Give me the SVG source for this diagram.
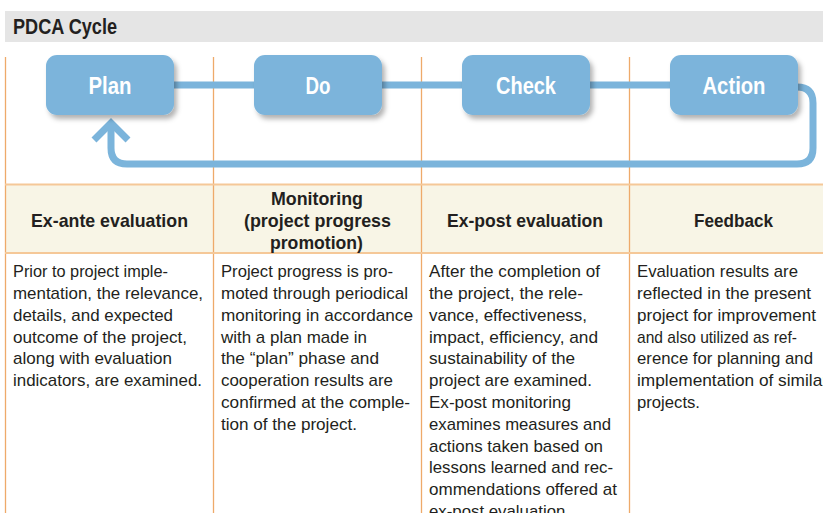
<svg xmlns="http://www.w3.org/2000/svg" width="823" height="513" viewBox="0 0 823 513">
<style>
.grid{stroke:#eeaa6a;stroke-width:1.3;fill:none}
.hline{stroke:#f5c898;stroke-width:2;fill:none}
.node{fill:#7bb4db}
.ntext{font-family:"Liberation Sans",Arial,sans-serif;font-weight:bold;font-size:24px;fill:#fff;text-anchor:middle}
.htext{font-family:"Liberation Sans",Arial,sans-serif;font-weight:bold;font-size:18.5px;fill:#231f20;text-anchor:middle}
.btext{font-family:"Liberation Sans",Arial,sans-serif;font-size:17px;fill:#231f20}
.conn{stroke:#7bb4db;stroke-width:7;fill:none}
</style>
<defs>
<filter id="sh" x="-20%" y="-20%" width="150%" height="160%">
<feDropShadow dx="3" dy="4" stdDeviation="2.5" flood-color="#000" flood-opacity="0.3"/>
</filter>
</defs>
<rect x="0" y="0" width="823" height="513" fill="#fff"/>
<rect x="5" y="11" width="818" height="31" fill="#e5e5e5"/>
<text x="13" y="34" font-family="Liberation Sans,Arial,sans-serif" font-weight="bold" font-size="22" fill="#231f20" textLength="104" lengthAdjust="spacingAndGlyphs">PDCA Cycle</text>
<rect x="5" y="184" width="818" height="69" fill="#f8f5e6"/>
<g id="grid">
<line class="grid" x1="5.5" y1="57" x2="5.5" y2="513"/>
<line class="grid" x1="213.5" y1="57" x2="213.5" y2="513"/>
<line class="grid" x1="421.5" y1="57" x2="421.5" y2="513"/>
<line class="grid" x1="629.5" y1="57" x2="629.5" y2="513"/>
<line class="hline" x1="5" y1="184.5" x2="823" y2="184.5"/>
<line class="hline" x1="5" y1="253" x2="823" y2="253"/>
</g>
<g id="connectors">
<line class="conn" x1="170" y1="85" x2="260" y2="85"/>
<line class="conn" x1="378" y1="85" x2="468" y2="85"/>
<line class="conn" x1="586" y1="85" x2="674" y2="85"/>
<path class="conn" d="M790 87 H797 Q813 87 813 103 V148 Q813 164 797 164 H127 Q111 164 111 148 V124"/>
<polyline class="conn" points="94,140 111,123 128,140" stroke-linejoin="miter"/>
</g>
<g id="plan"><rect class="node" x="46" y="55" width="128" height="60" rx="11" filter="url(#sh)"/><text class="ntext" x="110" y="94" textLength="43" lengthAdjust="spacingAndGlyphs">Plan</text></g>
<g id="do"><rect class="node" x="254" y="55" width="128" height="60" rx="11" filter="url(#sh)"/><text class="ntext" x="318" y="94" textLength="25" lengthAdjust="spacingAndGlyphs">Do</text></g>
<g id="check"><rect class="node" x="462" y="55" width="128" height="60" rx="11" filter="url(#sh)"/><text class="ntext" x="526" y="94" textLength="60" lengthAdjust="spacingAndGlyphs">Check</text></g>
<g id="action"><rect class="node" x="670" y="55" width="128" height="60" rx="11" filter="url(#sh)"/><text class="ntext" x="734" y="94" textLength="63" lengthAdjust="spacingAndGlyphs">Action</text></g>
<g id="headers">
<text class="htext" x="109.5" y="227" textLength="157" lengthAdjust="spacingAndGlyphs">Ex-ante evaluation</text>
<text class="htext" x="317" y="205" textLength="92" lengthAdjust="spacingAndGlyphs">Monitoring</text>
<text class="htext" x="317.5" y="227" textLength="147" lengthAdjust="spacingAndGlyphs">(project progress</text>
<text class="htext" x="316.5" y="249" textLength="93" lengthAdjust="spacingAndGlyphs">promotion)</text>
<text class="htext" x="525" y="227" textLength="156" lengthAdjust="spacingAndGlyphs">Ex-post evaluation</text>
<text class="htext" x="733.5" y="227" textLength="79" lengthAdjust="spacingAndGlyphs">Feedback</text>
</g>
<g id="col1" class="btext">
<text x="13" y="277" textLength="155" lengthAdjust="spacingAndGlyphs">Prior to project imple-</text>
<text x="13" y="299" textLength="190" lengthAdjust="spacingAndGlyphs">mentation, the relevance,</text>
<text x="13" y="321" textLength="160" lengthAdjust="spacingAndGlyphs">details, and expected</text>
<text x="13" y="342.5" textLength="174" lengthAdjust="spacingAndGlyphs">outcome of the project,</text>
<text x="13" y="364" textLength="159" lengthAdjust="spacingAndGlyphs">along with evaluation</text>
<text x="13" y="386" textLength="189" lengthAdjust="spacingAndGlyphs">indicators, are examined.</text>
</g>
<g id="col2" class="btext">
<text x="221" y="277" textLength="172" lengthAdjust="spacingAndGlyphs">Project progress is pro-</text>
<text x="221" y="299" textLength="187" lengthAdjust="spacingAndGlyphs">moted through periodical</text>
<text x="221" y="321" textLength="192" lengthAdjust="spacingAndGlyphs">monitoring in accordance</text>
<text x="221" y="342.5" textLength="146" lengthAdjust="spacingAndGlyphs">with a plan made in</text>
<text x="221" y="364" textLength="158" lengthAdjust="spacingAndGlyphs">the “plan” phase and</text>
<text x="221" y="386" textLength="172" lengthAdjust="spacingAndGlyphs">cooperation results are</text>
<text x="221" y="408" textLength="189" lengthAdjust="spacingAndGlyphs">confirmed at the comple-</text>
<text x="221" y="430" textLength="136" lengthAdjust="spacingAndGlyphs">tion of the project.</text>
</g>
<g id="col3" class="btext">
<text x="429" y="277" textLength="171" lengthAdjust="spacingAndGlyphs">After the completion of</text>
<text x="429" y="299" textLength="154" lengthAdjust="spacingAndGlyphs">the project, the rele-</text>
<text x="429" y="321" textLength="158" lengthAdjust="spacingAndGlyphs">vance, effectiveness,</text>
<text x="429" y="342.5" textLength="169" lengthAdjust="spacingAndGlyphs">impact, efficiency, and</text>
<text x="429" y="364" textLength="146" lengthAdjust="spacingAndGlyphs">sustainability of the</text>
<text x="429" y="386" textLength="163" lengthAdjust="spacingAndGlyphs">project are examined.</text>
<text x="429" y="408" textLength="142" lengthAdjust="spacingAndGlyphs">Ex-post monitoring</text>
<text x="429" y="430" textLength="182" lengthAdjust="spacingAndGlyphs">examines measures and</text>
<text x="429" y="451.5" textLength="174" lengthAdjust="spacingAndGlyphs">actions taken based on</text>
<text x="429" y="473" textLength="184" lengthAdjust="spacingAndGlyphs">lessons learned and rec-</text>
<text x="429" y="495" textLength="188" lengthAdjust="spacingAndGlyphs">ommendations offered at</text>
<text x="429" y="517" textLength="141" lengthAdjust="spacingAndGlyphs">ex-post evaluation.</text>
</g>
<g id="col4" class="btext">
<text x="637" y="277" textLength="161" lengthAdjust="spacingAndGlyphs">Evaluation results are</text>
<text x="637" y="299" textLength="174" lengthAdjust="spacingAndGlyphs">reflected in the present</text>
<text x="637" y="321" textLength="179" lengthAdjust="spacingAndGlyphs">project for improvement</text>
<text x="637" y="342.5" textLength="160" lengthAdjust="spacingAndGlyphs">and also utilized as ref-</text>
<text x="637" y="364" textLength="176" lengthAdjust="spacingAndGlyphs">erence for planning and</text>
<text x="637" y="386" textLength="191" lengthAdjust="spacingAndGlyphs">implementation of similar</text>
<text x="637" y="408" textLength="63" lengthAdjust="spacingAndGlyphs">projects.</text>
</g>
</svg>
